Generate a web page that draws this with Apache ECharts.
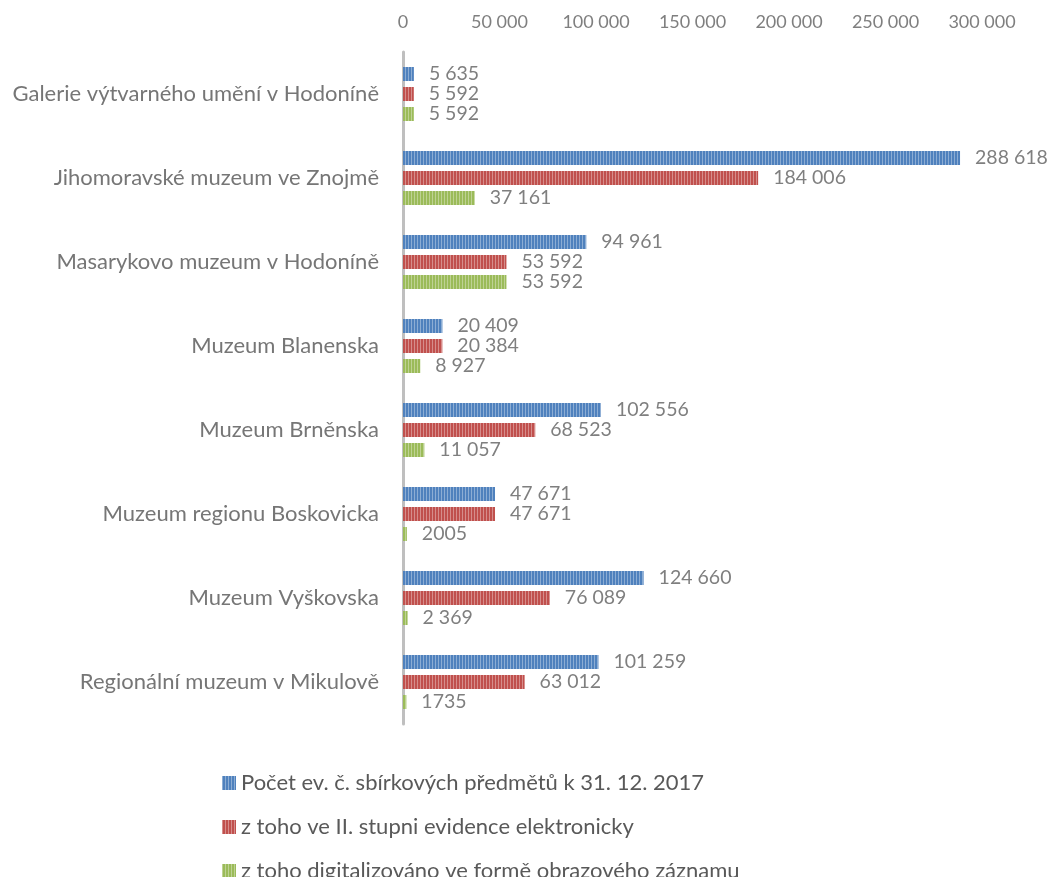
<!DOCTYPE html>
<html>
<head>
<meta charset="utf-8">
<script src="https://cdn.jsdelivr.net/npm/echarts@6/dist/echarts.min.js"></script>
<style>
  html, body { margin: 0; padding: 0; background: #fff; }
  #chart { width: 1051px; height: 877px; }
</style>
</head>
<body>
<div id="chart"></div>
<script>
const categories = [
  "Galerie výtvarného umění v Hodoníně",
  "Jihomoravské muzeum ve Znojmě",
  "Masarykovo muzeum v Hodoníně",
  "Muzeum Blanenska",
  "Muzeum Brněnska",
  "Muzeum regionu Boskovicka",
  "Muzeum Vyškovska",
  "Regionální muzeum v Mikulově",
];
const seriesNames = [
  "Počet ev. č. sbírkových předmětů k 31. 12. 2017",
  "z toho ve II. stupni evidence elektronicky",
  "z toho digitalizováno ve formě obrazového záznamu",
];
const total = [5635, 288618, 94961, 20409, 102556, 47671, 124660, 101259];
const electronic = [5592, 184006, 53592, 20384, 68523, 47671, 76089, 63012];
const digitized = [5592, 37161, 53592, 8927, 11057, 2005, 2369, 1735];
// these two labels appear without the thousands space in the original
const plainLabels = [2005, 1735];
const xTicks = [0, 50000, 100000, 150000, 200000, 250000, 300000];

const colors = ["#4F81BD", "#C0504D", "#9BBB59"];
const font = "Lato";

function fmt(v) {
  if (plainLabels.includes(v)) return String(v);
  return String(v).replace(/\B(?=(\d{3})+(?!\d))/g, " ");
}

const chart = echarts.init(document.getElementById("chart"));

const stripes = {
  symbol: "rect",
  symbolSize: 1,
  dashArrayX: [1, 2],
  dashArrayY: [4, 0],
  rotation: 0,
  color: "rgba(255,255,255,0.35)",
};

// one legend per row, so the rows stack exactly like the original
const legendTops = [772, 816, 860];

const option = {
  animation: false,
  grid: { left: 403, right: 69, top: 52, bottom: 153 },
  xAxis: {
    type: "value",
    position: "top",
    min: 0,
    max: xTicks[xTicks.length - 1],
    interval: xTicks[1] - xTicks[0],
    splitLine: { show: false },
    axisLine: { show: false },
    axisTick: { show: false },
    axisLabel: {
      margin: 21,
      color: "#7F7F7F",
      fontFamily: font,
      fontSize: 18,
      formatter: (v) => fmt(v),
    },
  },
  yAxis: {
    type: "category",
    data: categories,
    inverse: true,
    axisTick: { show: false },
    axisLine: { show: true, lineStyle: { color: "#BFBFBF", width: 3 } },
    axisLabel: {
      margin: 24,
      color: "#767676",
      fontFamily: font,
      fontSize: 22,
    },
  },
  legend: seriesNames.map((name, i) => ({
    left: 222,
    top: legendTops[i],
    padding: 0,
    itemWidth: 14,
    itemHeight: 14,
    icon: "rect",
    textStyle: { color: "#595959", fontFamily: font, fontSize: 22 },
    data: [name],
  })),
  series: [total, electronic, digitized].map((d, i) => ({
    name: seriesNames[i],
    type: "bar",
    data: d,
    barWidth: 14,
    barGap: "43%",
    itemStyle: { color: colors[i], decal: stripes },
    label: {
      show: true,
      position: "right",
      distance: 15,
      color: "#7F7F7F",
      fontFamily: font,
      fontSize: 19.5,
      formatter: (p) => fmt(p.value),
    },
  })),
};

chart.setOption(option);
</script>
</body>
</html>
